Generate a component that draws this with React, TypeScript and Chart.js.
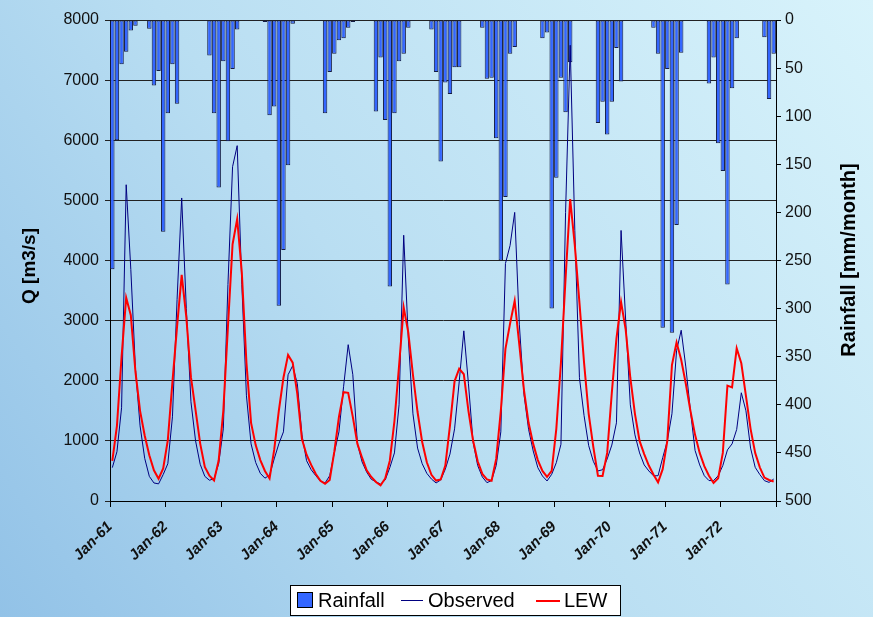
import React, { useEffect, useRef } from 'react';
import { Chart, registerables } from 'chart.js';

Chart.register(...registerables);

const FONT = "'Liberation Sans', Arial, sans-serif";

const yearLabels = ['Jan-61', 'Jan-62', 'Jan-63', 'Jan-64', 'Jan-65', 'Jan-66', 'Jan-67', 'Jan-68', 'Jan-69', 'Jan-70', 'Jan-71', 'Jan-72'];

// Monthly rainfall [mm/month], Jan-61 .. Dec-72
const rainfall = [
  259, 125, 46, 33, 11, 6, 0, 0, 9, 68, 53, 220,
  97, 46, 87, 1, 1, 1, 0, 0, 1, 37, 97, 174,
  43, 126, 51, 10, 0, 1, 0, 1, 0, 2, 99, 90,
  297, 239, 151, 4, 0, 1, 0, 0, 0, 1, 97, 54,
  35, 21, 19, 8, 2, 1, 0, 0, 0, 95, 39, 104,
  277, 97, 43, 35, 8, 1, 0, 0, 0, 10, 54, 147,
  65, 77, 49, 49, 0, 1, 0, 0, 8, 61, 60, 123,
  250, 184, 35, 28, 1, 1, 0, 0, 0, 19, 13, 300,
  164, 60, 96, 44, 0, 1, 0, 0, 0, 107, 85, 119,
  85, 29, 64, 0, 0, 1, 0, 0, 0, 8, 35, 320,
  51, 325, 213, 34, 0, 1, 0, 0, 1, 66, 39, 128,
  157, 275, 71, 19, 0, 1, 0, 0, 0, 18, 82, 35,
];

// Observed discharge Q [m3/s]
const observed = [
  555, 820, 1550, 5260, 3850, 2200, 1250, 710, 410, 300, 285, 440,
  620, 1400, 3350, 5040, 3200, 1650, 1000, 610, 410, 345, 372, 622,
  1200, 3600, 5560, 5910, 3600, 1750, 950, 640, 460, 380, 430, 700,
  950, 1150, 2100, 2250, 1950, 1100, 670, 520, 420, 330, 300, 420,
  800, 1150, 1900, 2600, 2100, 950, 650, 480, 360, 320, 280, 350,
  555, 800, 1600, 4420, 2700, 1450, 880, 620, 460, 365, 300, 350,
  530, 780, 1200, 1980, 2830, 1950, 980, 590, 400, 305, 340, 590,
  1150, 3950, 4250, 4800, 2940, 1775, 1193, 832, 555, 416, 333, 444,
  638, 943, 4800, 7580, 4500, 2050, 1420, 920, 660, 500, 520, 700,
  930, 1300, 4500, 3000, 1600, 1100, 800, 600, 500, 420, 420, 720,
  1000, 1450, 2500, 2840, 2230, 1500, 840, 600, 420, 340, 340, 420,
  590, 850, 950, 1190, 1800, 1500, 880, 560, 440, 338, 310, 365,
];

// Simulated discharge (LEW) Q [m3/s]
const lew = [
  666, 1250, 2400, 3380, 3090, 2150, 1500, 1090, 760, 510, 370, 540,
  1010, 1980, 2900, 3760, 3060, 2060, 1510, 955, 566, 420, 340, 677,
  1500, 2900, 4270, 4690, 3800, 2300, 1300, 930, 680, 500, 375, 850,
  1500, 2050, 2430, 2300, 1780, 1030, 770, 600, 450, 335, 285, 350,
  820, 1400, 1810, 1800, 1400, 950, 720, 510, 400, 317, 262, 375,
  670, 1330, 2250, 3220, 2800, 2100, 1480, 980, 645, 435, 340, 358,
  590, 1250, 1990, 2200, 2108, 1500, 1005, 660, 450, 358, 338, 700,
  1500, 2530, 2950, 3330, 2600, 1850, 1300, 950, 680, 500, 400, 500,
  1200, 2300, 3700, 5020, 4250, 3300, 2300, 1450, 900, 420, 415, 800,
  1800, 2700, 3310, 2850, 2050, 1450, 1000, 780, 590, 440, 310, 530,
  1000, 2260, 2640, 2350, 1950, 1500, 1100, 800, 580, 420, 300, 380,
  800, 1920, 1890, 2540, 2290, 1750, 1200, 800, 560, 390, 350, 325,
];

const BAR_COLOR = '#3366ff';
const OBS_COLOR = '#000080';
const LEW_COLOR = '#ff0000';

export default function App() {
  const ref = useRef<HTMLCanvasElement>(null);

  useEffect(() => {
    document.body.style.margin = '0';
    const canvas = ref.current;
    if (!canvas) return;

    const pts = (arr: number[]) => arr.map((v, i) => ({ x: i + 0.5, y: v }));

    const background = {
      id: 'background',
      beforeDraw(chart: any) {
        const c = chart.ctx;
        const g = c.createLinearGradient(0, chart.height, chart.width, 0);
        g.addColorStop(0, '#92c2e7');
        g.addColorStop(0.45, '#b9def2');
        g.addColorStop(1, '#d8f3fb');
        c.save();
        c.fillStyle = g;
        c.fillRect(0, 0, chart.width, chart.height);
        c.restore();
      },
    };

    const decorations = {
      id: 'decorations',
      afterDraw(chart: any) {
        const c = chart.ctx;
        c.save();
        c.fillStyle = '#000';
        c.font = `bold 19px ${FONT}`;
        c.textAlign = 'center';
        c.textBaseline = 'middle';
        c.save();
        c.translate(30, 266);
        c.rotate(-Math.PI / 2);
        c.fillText('Q [m3/s]', 0, 0);
        c.restore();
        c.save();
        c.translate(849, 260);
        c.rotate(-Math.PI / 2);
        c.font = `bold 20px ${FONT}`;
        c.fillText('Rainfall [mm/month]', 0, 0);
        c.restore();

        // legend
        const ds = chart.data.datasets;
        c.fillStyle = '#ffffff';
        c.fillRect(290, 585, 330, 30);
        c.strokeStyle = '#000';
        c.lineWidth = 1;
        c.strokeRect(290.5, 585.5, 330, 30);
        c.fillStyle = BAR_COLOR;
        c.fillRect(297, 592, 16, 16);
        c.strokeStyle = '#000';
        c.strokeRect(297.5, 592.5, 15, 15);
        c.font = `20px ${FONT}`;
        c.fillStyle = '#000';
        c.textAlign = 'left';
        c.textBaseline = 'middle';
        c.fillText(ds[2].label, 318, 601);
        c.strokeStyle = OBS_COLOR;
        c.lineWidth = 1;
        c.beginPath();
        c.moveTo(401, 600.5);
        c.lineTo(423, 600.5);
        c.stroke();
        c.fillText(ds[1].label, 428, 601);
        c.strokeStyle = LEW_COLOR;
        c.lineWidth = 2;
        c.beginPath();
        c.moveTo(536, 601);
        c.lineTo(560, 601);
        c.stroke();
        c.fillText(ds[0].label, 564, 601);
        c.restore();
      },
    };

    const chart = new Chart(canvas, {
      type: 'bar',
      data: {
        datasets: [
          {
            type: 'line',
            label: 'LEW',
            data: pts(lew),
            borderColor: LEW_COLOR,
            borderWidth: 2,
            pointRadius: 0,
            tension: 0,
            yAxisID: 'y',
            order: 1,
          },
          {
            type: 'line',
            label: 'Observed',
            data: pts(observed),
            borderColor: OBS_COLOR,
            borderWidth: 1,
            pointRadius: 0,
            tension: 0,
            yAxisID: 'y',
            order: 2,
          },
          {
            type: 'bar',
            label: 'Rainfall',
            data: pts(rainfall),
            backgroundColor: BAR_COLOR,
            borderColor: '#141c44',
            borderWidth: 1,
            borderSkipped: false,
            barPercentage: 1,
            categoryPercentage: 0.96,
            yAxisID: 'y1',
            order: 3,
          },
        ],
      } as any,
      options: {
        animation: false,
        responsive: false,
        events: [],
        layout: { padding: { top: 20, left: 0, right: 0, bottom: 0 } },
        plugins: {
          legend: { display: false },
          tooltip: { enabled: false },
        },
        scales: {
          x: {
            type: 'linear',
            offset: false,
            min: 0,
            max: 144,
            ticks: {
              stepSize: 12,
              autoSkip: false,
              minRotation: 45,
              maxRotation: 45,
              padding: 11,
              color: '#111',
              font: { family: FONT, size: 15, weight: 'bold', style: 'italic' },
              callback: (v: any) => yearLabels[Math.round(Number(v) / 12)] ?? '',
            },
            grid: { drawOnChartArea: false, offset: false, color: '#000', tickLength: 6 },
            border: { color: '#000', width: 1 },
            afterFit: (s: any) => { s.height = 116; },
          },
          y: {
            position: 'left',
            min: 0,
            max: 8000,
            ticks: {
              stepSize: 1000,
              padding: 6,
              color: '#111',
              font: { family: FONT, size: 16 },
              callback: (v: any) => String(v),
            },
            grid: { color: '#222', lineWidth: 1, tickLength: 5 },
            border: { color: '#000', width: 1 },
            afterFit: (s: any) => { s.width = 110; },
          },
          y1: {
            position: 'right',
            min: 0,
            max: 500,
            reverse: true,
            ticks: {
              stepSize: 50,
              padding: 4,
              color: '#111',
              font: { family: FONT, size: 16 },
              callback: (v: any) => String(v),
            },
            grid: { drawOnChartArea: false, color: '#000', tickLength: 5 },
            border: { color: '#000', width: 1 },
            afterFit: (s: any) => { s.width = 97; },
          },
        },
      } as any,
      plugins: [background, decorations],
    });

    return () => chart.destroy();
  }, []);

  return (
    <div style={{ width: 873, height: 617 }}>
      <canvas ref={ref} width={873} height={617} style={{ display: 'block', width: 873, height: 617 }} />
    </div>
  );
}
